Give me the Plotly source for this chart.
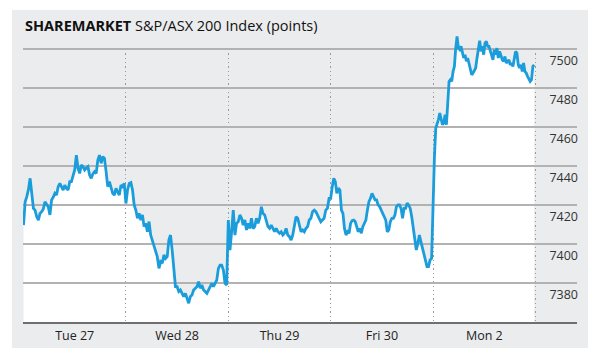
import plotly.graph_objects as go

# ---- data -------------------------------------------------------------
day_labels = ["Tue 27", "Wed 28", "Thu 29", "Fri 30", "Mon 2"]

tue_27 = [7409.7, 7421.7, 7424.3, 7428.0, 7433.7, 7424.3, 7418.3, 7417.4, 7414.0, 7412.3,
          7415.7, 7416.6, 7418.0, 7421.7, 7420.5, 7419.0, 7414.9, 7422.6, 7424.0, 7426.0,
          7425.1, 7429.4, 7431.1, 7429.0, 7427.7, 7430.2, 7428.5, 7427.7, 7432.0, 7432.0,
          7435.4, 7438.0, 7445.6, 7438.8, 7436.2, 7440.5, 7439.7, 7438.0, 7439.0, 7439.7,
          7435.4, 7433.7, 7436.0, 7437.1, 7436.2, 7443.1, 7445.6, 7441.4, 7444.8, 7443.9,
          7437.1, 7429.4, 7432.0, 7428.5, 7426.0, 7425.1, 7428.5, 7426.8, 7425.1, 7430.2,
          7429.4, 7431.1]

wed_28 = [7420.8, 7427.7, 7431.1, 7431.5, 7427.7, 7420.0, 7417.4, 7413.2, 7415.7, 7412.3,
          7414.9, 7408.9, 7410.6, 7406.3, 7411.5, 7404.6, 7402.0, 7398.6, 7396.9, 7393.5,
          7387.5, 7390.9, 7390.1, 7394.4, 7392.6, 7393.5, 7402.0, 7404.6, 7396.9, 7388.4,
          7378.1, 7378.1, 7375.6, 7376.4, 7374.7, 7373.0, 7374.7, 7372.1, 7369.6, 7373.0,
          7373.8, 7376.4, 7377.3, 7378.1, 7380.7, 7377.3, 7379.0, 7376.4, 7375.6, 7374.7,
          7376.4, 7378.1, 7379.8, 7378.1, 7379.8, 7381.5, 7387.5, 7389.2, 7389.2, 7386.7,
          7379.8, 7379.0]

thu_29 = [7412.3, 7396.9, 7406.3, 7417.4, 7404.6, 7410.6, 7411.4, 7414.9, 7413.2, 7409.7,
          7412.3, 7407.2, 7410.6, 7408.0, 7413.2, 7408.0, 7408.9, 7413.2, 7410.6, 7413.2,
          7419.1, 7415.7, 7414.9, 7412.3, 7408.9, 7408.0, 7409.7, 7408.0, 7406.3, 7408.0,
          7406.3, 7405.5, 7406.3, 7404.6, 7405.5, 7408.0, 7404.6, 7403.8, 7402.0, 7404.6,
          7409.7, 7414.0, 7413.2, 7409.7, 7406.3, 7407.2, 7406.3, 7408.0, 7408.9, 7412.3,
          7413.2, 7416.6, 7417.4, 7416.6, 7414.9, 7413.2, 7411.4, 7412.3, 7413.2, 7417.4,
          7418.3, 7423.4]

fri_30 = [7423.4, 7429.4, 7433.7, 7432.0, 7426.0, 7428.6, 7427.7, 7417.4, 7415.7, 7408.0,
          7404.6, 7406.3, 7405.5, 7410.6, 7412.0, 7412.3, 7411.5, 7408.9, 7406.3, 7408.0,
          7405.5, 7408.9, 7410.6, 7412.3, 7417.4, 7421.7, 7423.4, 7426.0, 7424.3, 7422.6,
          7422.6, 7420.0, 7419.2, 7417.4, 7415.7, 7414.0, 7412.3, 7406.3, 7407.2, 7411.5,
          7413.2, 7413.2, 7414.9, 7419.2, 7420.0, 7420.0, 7418.3, 7413.2, 7418.3, 7418.3,
          7420.9, 7420.0, 7418.3, 7414.0, 7408.0, 7403.8, 7396.9, 7400.3, 7404.6, 7401.2,
          7397.8, 7394.4, 7391.0, 7388.4, 7388.4, 7391.8, 7392.6]

mon_2 = [7424.0, 7445.0, 7459.5, 7461.2, 7463.8, 7467.2, 7463.8, 7461.2, 7462.0, 7466.3,
         7461.2, 7475.7, 7483.4, 7484.3, 7483.4, 7488.5, 7491.1, 7500.5, 7506.5, 7500.5,
         7499.7, 7501.4, 7497.9, 7495.4, 7497.1, 7493.7, 7495.4, 7491.9, 7488.5, 7486.8,
         7487.7, 7489.4, 7490.3, 7495.4, 7501.4, 7504.3, 7498.8, 7501.4, 7497.1, 7503.1,
         7503.9, 7501.4, 7501.4, 7498.8, 7497.1, 7494.5, 7499.7, 7497.1, 7500.5, 7495.4,
         7498.8, 7496.2, 7494.5, 7493.7, 7496.2, 7492.8, 7493.7, 7494.5, 7491.9, 7492.8,
         7491.1, 7496.2, 7498.8, 7497.9, 7491.9, 7490.3, 7491.9, 7488.5, 7492.8, 7488.5,
         7487.7, 7486.0, 7484.3, 7483.4, 7484.3, 7491.1, 7491.9]

y_ticks = [7380, 7400, 7420, 7440, 7460, 7480, 7500]
y_min, y_max = 7360, 7510.8

# ---- build series: each trading day spans one unit on the x axis -------
days = [tue_27, wed_28, thu_29, fri_30, mon_2]
xs, ys = [], []
for d, vals in enumerate(days):
    n = len(vals)
    for i, v in enumerate(vals):
        xs.append(d + i / n)
        ys.append(v)

x_range = [-0.005, 5.405]
BLUE = "#1b9ddb"
CARD = "#ebeced"
FONT = "Open Sans, Lato, sans-serif"

fig = go.Figure()
# white area under the line (subplot 1)
fig.add_trace(go.Scatter(x=xs, y=ys, mode="lines", line=dict(width=0, color="white"),
                         fill="tozeroy", fillcolor="white", hoverinfo="skip",
                         showlegend=False, xaxis="x", yaxis="y"))
# vertical dotted day separators (subplot 2)
fig.add_trace(go.Scatter(x=[0], y=[y_min], mode="markers", marker=dict(opacity=0),
                         hoverinfo="skip", showlegend=False, xaxis="x2", yaxis="y2"))
# the index line with horizontal grid (subplot 3)
fig.add_trace(go.Scatter(x=xs, y=ys, mode="lines", line=dict(width=2.8, color=BLUE),
                         showlegend=False, xaxis="x3", yaxis="y3"))

fig.update_layout(
    width=602, height=364,
    margin=dict(l=23, r=25, t=28, b=42),
    paper_bgcolor="white",
    plot_bgcolor="rgba(0,0,0,0)",
    font=dict(family=FONT, color="#222"),
    xaxis=dict(range=x_range, domain=[0, 1], tickvals=[0.5, 1.5, 2.5, 3.5, 4.5],
               ticktext=day_labels, ticks="", showgrid=False, zeroline=False,
               showline=True, linecolor="#6f6f6f", linewidth=2,
               tickfont=dict(size=12.5, color="#222"), ticklabelstandoff=1),
    yaxis=dict(range=[y_min, y_max], domain=[0, 1], visible=False),
    xaxis2=dict(range=x_range, domain=[0, 1], anchor="y2", tickvals=[0, 1, 2, 3, 4, 5],
                showticklabels=False, ticks="", showgrid=True, gridcolor="#9a9a9a",
                gridwidth=1.3, griddash="1.3px,3px", zeroline=False, showline=False),
    yaxis2=dict(range=[y_min, 7500], domain=[0, (7500 - y_min) / (y_max - y_min)],
                anchor="x2", visible=False, showgrid=False),
    xaxis3=dict(range=x_range, domain=[0, 1], anchor="y3", showgrid=False,
                showticklabels=False, ticks="", zeroline=False, showline=False),
    yaxis3=dict(range=[y_min, y_max], domain=[0, 1], anchor="x3", side="right",
                tickvals=y_ticks, showgrid=True, gridcolor="#b2b2b2", gridwidth=1.5,
                zeroline=False, showline=False, ticks="",
                ticklabelposition="inside", ticklabelshift=12, ticklabelstandoff=-4,
                tickfont=dict(size=12.5, color="#333")),
    shapes=[dict(type="rect", xref="paper", yref="paper", layer="below",
                 x0=(12 - 23) / 554, x1=(588 - 23) / 554,
                 y0=(322 - 348) / 294, y1=(322 - 10) / 294,
                 fillcolor=CARD, line=dict(width=0))],
    annotations=[dict(xref="paper", yref="paper", x=0, y=(322 - 26) / 294,
                      xanchor="left", yanchor="middle", showarrow=False,
                      text="<b>SHAREMARKET</b> S&P/ASX 200 Index (points)",
                      font=dict(size=14.5, color="#111", family=FONT))],
)

fig.write_html("out.html", config={"displayModeBar": False},
               post_script="document.body.style.margin='0';document.body.style.overflow='hidden';")
